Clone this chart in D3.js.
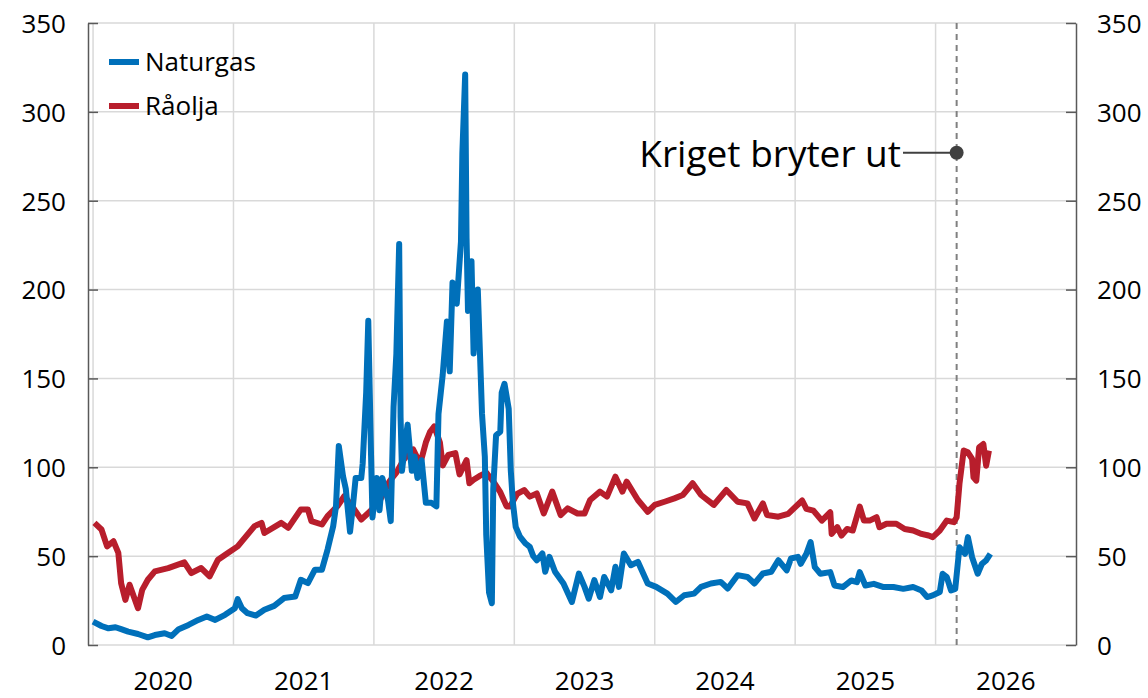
<!DOCTYPE html>
<html><head><meta charset="utf-8">
<script src="https://cdn.jsdelivr.net/npm/d3@7"></script>
<style>body{margin:0;background:#fff;} svg{display:block;font-family:"Open Sans",sans-serif;}</style>
</head><body><svg id="c" width="1148" height="698"></svg>
<script>
const yearLabels = ["2020","2021","2022","2023","2024","2025","2026"];
const yTicks = [0,50,100,150,200,250,300,350];
const seriesNames = ["Naturgas","Råolja"];
const warDate = 2026.15;
const warLabel = "Kriget bryter ut";
const warLabelValue = 277;

const gasT = [2020.00,2020.06,2020.11,2020.16,2020.20,2020.25,2020.32,2020.39,2020.44,2020.51,2020.56,2020.61,2020.68,2020.75,2020.81,2020.87,2020.94,2021.01,2021.03,2021.06,2021.10,2021.16,2021.22,2021.29,2021.36,2021.44,2021.48,2021.53,2021.58,2021.63,2021.67,2021.71,2021.73,2021.75,2021.78,2021.80,2021.83,2021.85,2021.87,2021.91,2021.92,2021.945,2021.96,2021.98,2021.99,2022.02,2022.04,2022.06,2022.10,2022.12,2022.14,2022.16,2022.18,2022.19,2022.20,2022.22,2022.24,2022.27,2022.29,2022.31,2022.34,2022.37,2022.41,2022.445,2022.46,2022.49,2022.52,2022.54,2022.56,2022.59,2022.62,2022.63,2022.65,2022.66,2022.67,2022.695,2022.71,2022.74,2022.77,2022.79,2022.80,2022.82,2022.84,2022.85,2022.87,2022.90,2022.91,2022.93,2022.96,2022.975,2022.99,2023.01,2023.04,2023.08,2023.11,2023.135,2023.16,2023.20,2023.22,2023.25,2023.29,2023.35,2023.41,2023.46,2023.50,2023.53,2023.57,2023.61,2023.64,2023.69,2023.72,2023.745,2023.78,2023.83,2023.88,2023.95,2024.01,2024.09,2024.15,2024.21,2024.28,2024.33,2024.40,2024.47,2024.52,2024.59,2024.66,2024.71,2024.77,2024.83,2024.88,2024.94,2024.97,2025.02,2025.04,2025.08,2025.11,2025.14,2025.18,2025.25,2025.28,2025.34,2025.40,2025.44,2025.46,2025.50,2025.56,2025.63,2025.70,2025.77,2025.84,2025.90,2025.94,2025.98,2026.03,2026.05,2026.08,2026.11,2026.14,2026.17,2026.21,2026.23,2026.26,2026.30,2026.33,2026.36,2026.39];
const gasV = [13.2,10.7,9.4,10,8.9,7.5,6.2,4.3,5.6,6.6,5.1,8.9,11.3,14.1,16,14.1,17,20.7,25.8,20.7,17.9,16.6,19.8,22,26.4,27.3,36.7,34.8,42.4,42.4,53.7,66.8,78,112,95,87.8,63.7,77.8,94,94,102,142,182.4,106,71.8,94,75.8,94,81.8,69.7,134,164,225.6,128,98,112,124,98,106,94,104,80,80,78,130,152,182,154,204,192,227,277,321,229,188,216,164,200,130,106,62,29.5,23.5,88,118,120,142,147,133,98,80,66.5,61,57.1,55.2,50,47.7,51.5,41.2,49.6,41.2,34.6,24.2,40.2,32.7,26.1,36.5,27,38.3,30.8,44,32.7,51.5,44.9,46.8,34.6,32.7,28.9,24.2,28,28.9,32.7,34.6,35.5,31.8,39.3,38.3,34.6,40.2,41.2,47.7,42,48.7,49.6,45.7,51.3,57.9,43.8,40.1,41,33.5,32.6,36.3,35.4,41,33.5,34.4,32.6,32.6,31.6,32.6,30.7,27,27.9,29.8,40.1,38.2,30.7,31.6,55,51.3,60.7,49.4,40.1,45.7,47.6,51.3];

const oilT = [2020.01,2020.06,2020.10,2020.145,2020.18,2020.20,2020.23,2020.26,2020.29,2020.32,2020.35,2020.39,2020.44,2020.535,2020.65,2020.70,2020.77,2020.83,2020.89,2020.96,2021.03,2021.15,2021.20,2021.22,2021.34,2021.39,2021.48,2021.53,2021.555,2021.63,2021.67,2021.74,2021.79,2021.86,2021.91,2021.97,2022.04,2022.11,2022.16,2022.21,2022.25,2022.28,2022.33,2022.37,2022.40,2022.43,2022.47,2022.49,2022.53,2022.58,2022.61,2022.66,2022.68,2022.71,2022.75,2022.80,2022.85,2022.90,2022.945,2022.97,2023.02,2023.07,2023.11,2023.16,2023.21,2023.27,2023.33,2023.38,2023.45,2023.50,2023.54,2023.61,2023.66,2023.72,2023.77,2023.80,2023.88,2023.95,2024.00,2024.07,2024.14,2024.20,2024.27,2024.33,2024.42,2024.51,2024.59,2024.66,2024.71,2024.77,2024.80,2024.88,2024.95,2025.05,2025.08,2025.13,2025.19,2025.25,2025.26,2025.30,2025.33,2025.37,2025.41,2025.46,2025.49,2025.53,2025.58,2025.60,2025.65,2025.72,2025.78,2025.84,2025.90,2025.95,2025.98,2026.03,2026.08,2026.13,2026.15,2026.17,2026.20,2026.23,2026.26,2026.27,2026.29,2026.31,2026.34,2026.36,2026.38];
const oilV = [68.7,65,55.5,58.4,51.8,34.8,25.4,33.9,27.3,20.7,31,36.7,41.4,43.3,46.5,40.5,43.3,38.6,48,51.8,55.5,66.9,68.7,63,68.7,65.9,76.3,76.3,69.7,67.8,72.5,78.1,83.8,76.3,70.6,75,81,92,97,104,108,110,102,114,120,123,114,101,107,108,96,104,91,93,95,97,92,86,78,78,85,87.2,83.5,85.3,74,86.3,73.1,76.9,74,74,81.6,86.3,83.5,94.7,86.3,91.9,81.6,75,78.8,80.6,82.5,84.4,91,84.4,78.8,87.2,80.6,79.7,71.2,79.7,73.1,72.2,73.8,81.3,76.6,75.6,70,74.7,62.5,66.3,61.6,65.3,64.4,77.9,70,70,71.9,66.3,68.2,68.2,65.3,64.4,62.5,61.6,60.7,64.4,70,69.1,71.9,90.6,109.4,108.4,104.7,94.4,92.5,111.2,113.1,100.9,109.4];

const svg = d3.select("#c");
const L = 88, R = 1076, T = 23, B = 645;
const x = d3.scaleLinear().domain([2019.964, 2027.0]).range([L, R]);
const y = d3.scaleLinear().domain([0, 350]).range([B, T]);
const gridC = "#d9d9d9", axisC = "#595959";
const blue = "#0070BA", red = "#B81E2C";
const fs = 26;

// horizontal grid
svg.append("g").selectAll("line").data(yTicks).join("line")
  .attr("x1", L).attr("x2", R).attr("y1", d => y(d)).attr("y2", d => y(d))
  .attr("stroke", gridC).attr("stroke-width", 1.5);
// vertical grid at year starts
const yearStarts = yearLabels.map(d => +d);
svg.append("g").selectAll("line").data(yearStarts).join("line")
  .attr("x1", d => x(d)).attr("x2", d => x(d)).attr("y1", T).attr("y2", B)
  .attr("stroke", gridC).attr("stroke-width", 1.5);

// axes
const leftAxis = d3.axisLeft(y).tickValues(yTicks).tickSizeInner(-10).tickSizeOuter(0);
const gl = svg.append("g").attr("transform", `translate(${L},0)`).call(leftAxis);
const rightAxis = d3.axisRight(y).tickValues(yTicks).tickSizeInner(-10).tickSizeOuter(0);
const gr = svg.append("g").attr("transform", `translate(${R},0)`).call(rightAxis);
[gl, gr].forEach(g => {
  g.select(".domain").attr("stroke", axisC).attr("stroke-width", 1.5);
  g.selectAll(".tick line").attr("stroke", axisC).attr("stroke-width", 1.5);
  g.selectAll(".tick text").attr("font-size", fs).attr("fill", "#000")
    .attr("font-family", "'Open Sans', sans-serif").attr("dy", "0.36em");
});
gl.selectAll(".tick text").attr("x", -22);
gr.selectAll(".tick text").attr("x", 21);

// x labels
svg.append("g").selectAll("text").data(yearLabels).join("text")
  .attr("x", d => x(+d + 0.5)).attr("y", 690).attr("text-anchor", "middle")
  .attr("font-size", fs).attr("fill", "#000").text(d => d);

// war line
svg.append("line").attr("x1", x(warDate)).attr("x2", x(warDate)).attr("y1", T).attr("y2", B)
  .attr("stroke", "#808080").attr("stroke-width", 2).attr("stroke-dasharray", "6,5");

// series
const line = d3.line().x(d => x(d[0])).y(d => y(d[1]));
const oil = oilT.map((t, i) => [t, oilV[i]]);
const gas = gasT.map((t, i) => [t, gasV[i]]);
svg.append("path").datum(oil).attr("d", line).attr("fill", "none")
  .attr("stroke", red).attr("stroke-width", 6).attr("stroke-linejoin", "round");
svg.append("path").datum(gas).attr("d", line).attr("fill", "none")
  .attr("stroke", blue).attr("stroke-width", 6).attr("stroke-linejoin", "round");

// annotation
const ax = x(warDate), ay = y(warLabelValue);
svg.append("line").attr("x1", 903).attr("x2", ax).attr("y1", ay).attr("y2", ay)
  .attr("stroke", "#404040").attr("stroke-width", 2);
svg.append("circle").attr("cx", ax).attr("cy", ay).attr("r", 7).attr("fill", "#404040");
svg.append("text").attr("x", 901).attr("y", ay + 14).attr("text-anchor", "end")
  .attr("font-size", 37).attr("fill", "#000").text(warLabel);

// legend
const leg = svg.append("g");
[blue, red].forEach((c, i) => {
  const ly = 62 + i * 44;
  leg.append("line").attr("x1", 109).attr("x2", 139).attr("y1", ly).attr("y2", ly)
    .attr("stroke", c).attr("stroke-width", 6);
  leg.append("text").attr("x", 145).attr("y", ly + 9).attr("font-size", fs)
    .attr("fill", "#000").text(seriesNames[i]);
});
</script>
</body></html>
